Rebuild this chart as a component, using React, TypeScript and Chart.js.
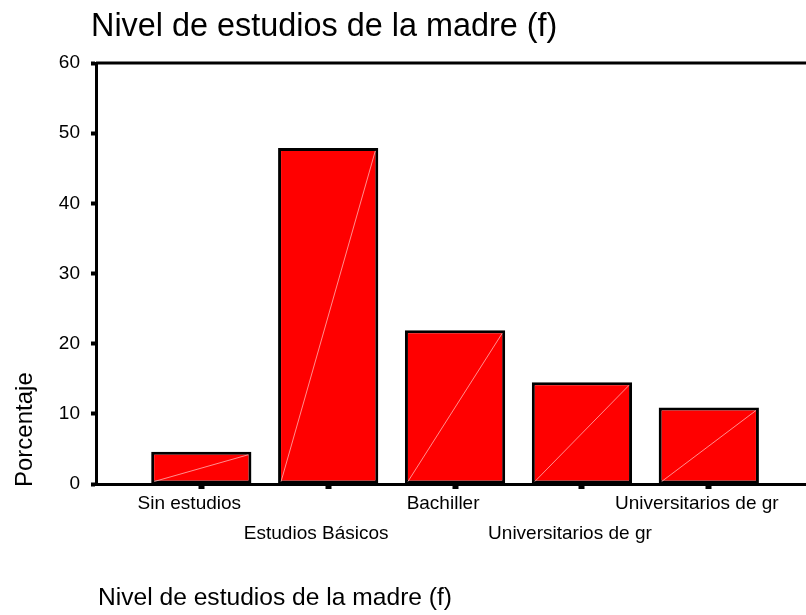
import React, { useEffect, useRef } from 'react';
import { Chart, registerables } from 'chart.js';

Chart.register(...registerables);

const TITLE = 'Nivel de estudios de la madre (f)';
const X_TITLE = 'Nivel de estudios de la madre (f)';
const Y_TITLE = 'Porcentaje';

const categories = [
  'Sin estudios',
  'Estudios Básicos',
  'Bachiller',
  'Universitarios de gr',
  'Universitarios de gr',
];
const percentages = [4.6, 47.9, 21.9, 14.5, 10.9];

const Y_MIN = 0;
const Y_MAX = 60;
const Y_STEP = 10;

const FONT = '"Liberation Sans", Arial, Helvetica, sans-serif';

export default function App() {
  const ref = useRef<HTMLCanvasElement | null>(null);

  useEffect(() => {
    document.body.style.margin = '0';
    const canvas = ref.current;
    if (!canvas) return;

    const decorPlugin = {
      id: 'spssDecor',
      afterDatasetsDraw(chart: any) {
        const ctx = chart.ctx;
        const meta = chart.getDatasetMeta(0);
        ctx.save();
        ctx.strokeStyle = 'rgba(255,190,190,0.75)';
        ctx.lineWidth = 1;
        meta.data.forEach((bar: any) => {
          const p = bar.getProps(['x', 'y', 'base', 'width'], true);
          const l = p.x - p.width / 2 + 3;
          const r = p.x + p.width / 2 - 3;
          ctx.beginPath();
          ctx.moveTo(l, p.base - 2);
          ctx.lineTo(r, p.y + 3);
          ctx.stroke();
        });
        ctx.restore();
      },
      afterDraw(chart: any) {
        const ctx = chart.ctx;
        const a = chart.chartArea;
        ctx.save();
        ctx.strokeStyle = '#000';
        ctx.lineWidth = 3;
        ctx.beginPath();
        ctx.moveTo(a.left, a.top);
        ctx.lineTo(a.right, a.top);
        ctx.stroke();

        ctx.fillStyle = '#000';
        ctx.textAlign = 'left';
        ctx.textBaseline = 'alphabetic';
        ctx.font = `32.4px ${FONT}`;
        ctx.fillText(TITLE, 91, 36);
        ctx.font = `24.6px ${FONT}`;
        ctx.fillText(X_TITLE, 98, 605);
        ctx.font = `24px ${FONT}`;
        ctx.translate(32, 487);
        ctx.rotate(-Math.PI / 2);
        ctx.fillText(Y_TITLE, 0, 0);
        ctx.restore();
      },
    };

    const chart = new Chart(canvas, {
      type: 'bar',
      data: {
        datasets: [
          {
            data: percentages.map((v, i) => ({ x: i, y: v })),
            backgroundColor: '#ff0000',
            borderColor: '#000000',
            borderWidth: 3,
            borderSkipped: false,
            barPercentage: 0.79,
            categoryPercentage: 1,
          },
        ],
      },
      options: {
        responsive: false,
        animation: false,
        events: [],
        layout: { padding: { top: 63, left: 0, right: 0, bottom: 0 } },
        plugins: {
          legend: { display: false },
          title: { display: false },
          tooltip: { enabled: false },
        },
        scales: {
          x: {
            type: 'linear',
            offset: false,
            min: -0.83,
            max: 4.766,
            afterBuildTicks: (scale: any) => {
              scale.ticks = categories.map((_, i) => ({ value: i }));
            },
            afterFit: (scale: any) => {
              scale.height = 131;
            },
            ticks: {
              autoSkip: false,
              maxRotation: 0,
              minRotation: 0,
              padding: 0,
              labelOffset: -12,
              color: '#000',
              font: { family: FONT, size: 19, lineHeight: 30 / 19 },
              callback: (v: any) => {
                const i = Math.round(Number(v));
                const lbl = categories[i] ?? '';
                return i % 2 === 0 ? lbl : ['', lbl];
              },
            },
            grid: {
              offset: false,
              drawOnChartArea: false,
              drawTicks: true,
              tickLength: 5,
              tickWidth: 6,
              tickColor: '#000',
              color: '#000',
            },
            border: { display: true, color: '#000', width: 3 },
          },
          y: {
            min: Y_MIN,
            max: Y_MAX,
            afterFit: (scale: any) => {
              scale.width = 96;
            },
            ticks: {
              stepSize: Y_STEP,
              padding: 11,
              color: '#000',
              font: { family: FONT, size: 19 },
            },
            grid: {
              drawOnChartArea: false,
              drawTicks: true,
              tickLength: 5,
              tickWidth: 4,
              tickColor: '#000',
              color: '#000',
            },
            border: { display: true, color: '#000', width: 3 },
          },
        },
      },
      plugins: [decorPlugin],
    });

    return () => {
      chart.destroy();
    };
  }, []);

  return (
    <canvas
      ref={ref}
      width={806}
      height={615}
      style={{ display: 'block', width: 806, height: 615 }}
    />
  );
}
